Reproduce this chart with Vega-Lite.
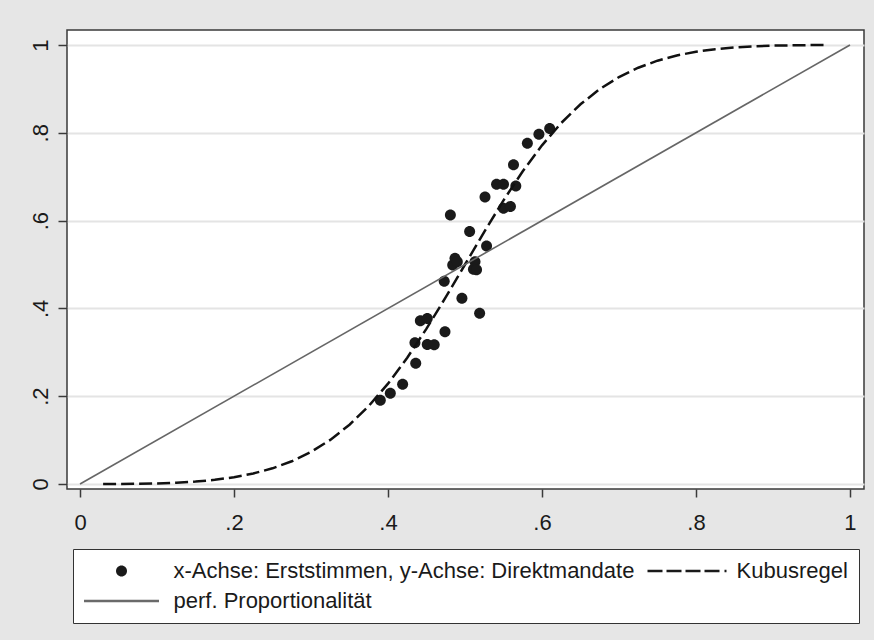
{
  "$schema": "https://vega.github.io/schema/vega-lite/v6.json",
  "width": 797,
  "height": 459,
  "autosize": {"type": "none"},
  "padding": {"left": 67, "top": 30, "right": 10, "bottom": 151},
  "background": "#e6e6e6",
  "config": {
    "view": {"fill": "#ffffff", "stroke": "#3a3a3a", "strokeWidth": 1.5},
    "font": "Liberation Sans",
    "axis": {
      "domain": false,
      "labelFont": "Liberation Sans",
      "labelFontSize": 22,
      "labelColor": "#1a1a1a",
      "tickColor": "#3a3a3a",
      "tickWidth": 1.5,
      "gridColor": "#e4e4e4",
      "gridWidth": 2,
      "labelFlush": false,
      "labelOverlap": false
    }
  },
  "datasets": {
    "punkte": [
      {"x": 0.390, "y": 0.191, "serie": "x-Achse: Erststimmen, y-Achse: Direktmandate"},
      {"x": 0.403, "y": 0.207, "serie": "x-Achse: Erststimmen, y-Achse: Direktmandate"},
      {"x": 0.419, "y": 0.227, "serie": "x-Achse: Erststimmen, y-Achse: Direktmandate"},
      {"x": 0.436, "y": 0.275, "serie": "x-Achse: Erststimmen, y-Achse: Direktmandate"},
      {"x": 0.435, "y": 0.322, "serie": "x-Achse: Erststimmen, y-Achse: Direktmandate"},
      {"x": 0.451, "y": 0.318, "serie": "x-Achse: Erststimmen, y-Achse: Direktmandate"},
      {"x": 0.460, "y": 0.317, "serie": "x-Achse: Erststimmen, y-Achse: Direktmandate"},
      {"x": 0.442, "y": 0.372, "serie": "x-Achse: Erststimmen, y-Achse: Direktmandate"},
      {"x": 0.451, "y": 0.377, "serie": "x-Achse: Erststimmen, y-Achse: Direktmandate"},
      {"x": 0.474, "y": 0.347, "serie": "x-Achse: Erststimmen, y-Achse: Direktmandate"},
      {"x": 0.496, "y": 0.423, "serie": "x-Achse: Erststimmen, y-Achse: Direktmandate"},
      {"x": 0.519, "y": 0.389, "serie": "x-Achse: Erststimmen, y-Achse: Direktmandate"},
      {"x": 0.473, "y": 0.462, "serie": "x-Achse: Erststimmen, y-Achse: Direktmandate"},
      {"x": 0.484, "y": 0.499, "serie": "x-Achse: Erststimmen, y-Achse: Direktmandate"},
      {"x": 0.487, "y": 0.514, "serie": "x-Achse: Erststimmen, y-Achse: Direktmandate"},
      {"x": 0.490, "y": 0.506, "serie": "x-Achse: Erststimmen, y-Achse: Direktmandate"},
      {"x": 0.513, "y": 0.506, "serie": "x-Achse: Erststimmen, y-Achse: Direktmandate"},
      {"x": 0.511, "y": 0.489, "serie": "x-Achse: Erststimmen, y-Achse: Direktmandate"},
      {"x": 0.515, "y": 0.488, "serie": "x-Achse: Erststimmen, y-Achse: Direktmandate"},
      {"x": 0.506, "y": 0.575, "serie": "x-Achse: Erststimmen, y-Achse: Direktmandate"},
      {"x": 0.528, "y": 0.542, "serie": "x-Achse: Erststimmen, y-Achse: Direktmandate"},
      {"x": 0.481, "y": 0.613, "serie": "x-Achse: Erststimmen, y-Achse: Direktmandate"},
      {"x": 0.526, "y": 0.654, "serie": "x-Achse: Erststimmen, y-Achse: Direktmandate"},
      {"x": 0.550, "y": 0.628, "serie": "x-Achse: Erststimmen, y-Achse: Direktmandate"},
      {"x": 0.559, "y": 0.632, "serie": "x-Achse: Erststimmen, y-Achse: Direktmandate"},
      {"x": 0.541, "y": 0.683, "serie": "x-Achse: Erststimmen, y-Achse: Direktmandate"},
      {"x": 0.550, "y": 0.683, "serie": "x-Achse: Erststimmen, y-Achse: Direktmandate"},
      {"x": 0.566, "y": 0.679, "serie": "x-Achse: Erststimmen, y-Achse: Direktmandate"},
      {"x": 0.563, "y": 0.727, "serie": "x-Achse: Erststimmen, y-Achse: Direktmandate"},
      {"x": 0.581, "y": 0.776, "serie": "x-Achse: Erststimmen, y-Achse: Direktmandate"},
      {"x": 0.596, "y": 0.797, "serie": "x-Achse: Erststimmen, y-Achse: Direktmandate"},
      {"x": 0.610, "y": 0.810, "serie": "x-Achse: Erststimmen, y-Achse: Direktmandate"}
    ],
    "kubus": [
      {"x": 0.03, "y": 0.00003}, {"x": 0.05, "y": 0.00015}, {"x": 0.1, "y": 0.00137},
      {"x": 0.125, "y": 0.00291}, {"x": 0.15, "y": 0.00547}, {"x": 0.175, "y": 0.00945},
      {"x": 0.2, "y": 0.01538}, {"x": 0.225, "y": 0.02389}, {"x": 0.25, "y": 0.03571},
      {"x": 0.275, "y": 0.05175}, {"x": 0.3, "y": 0.07297}, {"x": 0.325, "y": 0.10041},
      {"x": 0.35, "y": 0.13504}, {"x": 0.375, "y": 0.17763}, {"x": 0.4, "y": 0.22857},
      {"x": 0.425, "y": 0.28765}, {"x": 0.45, "y": 0.35388}, {"x": 0.475, "y": 0.4255},
      {"x": 0.5, "y": 0.5}, {"x": 0.525, "y": 0.5745}, {"x": 0.55, "y": 0.64612},
      {"x": 0.575, "y": 0.71235}, {"x": 0.6, "y": 0.77143}, {"x": 0.625, "y": 0.82237},
      {"x": 0.65, "y": 0.86496}, {"x": 0.675, "y": 0.89959}, {"x": 0.7, "y": 0.92703},
      {"x": 0.725, "y": 0.94825}, {"x": 0.75, "y": 0.96429}, {"x": 0.775, "y": 0.97611},
      {"x": 0.8, "y": 0.98462}, {"x": 0.825, "y": 0.99055}, {"x": 0.85, "y": 0.99453},
      {"x": 0.875, "y": 0.99709}, {"x": 0.9, "y": 0.99863}, {"x": 0.95, "y": 0.99985},
      {"x": 0.97, "y": 0.99997}
    ],
    "prop": [
      {"x": 0, "y": 0},
      {"x": 1, "y": 1}
    ]
  },
  "layer": [
    {
      "data": {"name": "punkte"},
      "mark": {"type": "point", "filled": true, "opacity": 1, "size": 4, "strokeWidth": 0},
      "encoding": {
        "x": {
          "field": "x", "type": "quantitative",
          "scale": {"domain": [-0.0169, 1.0182], "nice": false, "zero": false},
          "axis": {
            "title": null,
            "values": [0, 0.2, 0.4, 0.6, 0.8, 1],
            "labelExpr": "datum.value == 0 ? '0' : datum.value == 1 ? '1' : '.' + round(datum.value * 10)",
            "grid": false,
            "tickSize": 8,
            "labelPadding": 15
          }
        },
        "y": {
          "field": "y", "type": "quantitative",
          "scale": {"domain": [-0.0114, 1.0342], "nice": false, "zero": false},
          "axis": {
            "title": null,
            "values": [0, 0.2, 0.4, 0.6, 0.8, 1],
            "labelExpr": "datum.value == 0 ? '0' : datum.value == 1 ? '1' : '.' + round(datum.value * 10)",
            "grid": true,
            "tickSize": 9,
            "labelAngle": 270,
            "labelAlign": "center",
            "labelBaseline": "bottom",
            "labelPadding": 6
          }
        },
        "color": {
          "field": "serie", "type": "nominal",
          "scale": {
            "domain": ["x-Achse: Erststimmen, y-Achse: Direktmandate", "Kubusregel", "perf. Proportionalität"],
            "range": ["#1a1a1a", "#1a1a1a", "#6a6a6a"]
          },
          "legend": {
            "title": null, "orient": "none", "legendX": 6, "legendY": 519,
            "columns": 2, "direction": "horizontal",
            "symbolSize": 4, "symbolStrokeWidth": 0, "symbolOffset": 26.5,
            "labelOffset": 41, "labelFont": "Liberation Sans", "labelFontSize": 22,
            "labelColor": "#1a1a1a", "labelLimit": 700,
            "padding": 11, "rowPadding": 8, "columnPadding": 12,
            "fillColor": "#ffffff", "strokeColor": "#333333", "cornerRadius": 0
          }
        },
        "shape": {
          "field": "serie", "type": "nominal",
          "scale": {
            "domain": ["x-Achse: Erststimmen, y-Achse: Direktmandate", "Kubusregel", "perf. Proportionalität"],
            "range": [
              "M-5.5,0A5.5,5.5,0,1,1,5.5,0A5.5,5.5,0,1,1,-5.5,0Z",
              "M-37,-1.3H-22V1.3H-37Z M-18,-1.3H-3V1.3H-18Z M1,-1.3H16V1.3H1Z M20,-1.3H35V1.3H20Z M40,-1.3H42V1.3H40Z",
              "M-37.5,-1.2H37.5V1.2H-37.5Z"
            ]
          },
          "legend": {
            "title": null, "orient": "none", "legendX": 6, "legendY": 519,
            "columns": 2, "direction": "horizontal",
            "symbolSize": 4, "symbolStrokeWidth": 0, "symbolOffset": 26.5,
            "labelOffset": 41, "labelFont": "Liberation Sans", "labelFontSize": 22,
            "labelColor": "#1a1a1a", "labelLimit": 700,
            "padding": 11, "rowPadding": 8, "columnPadding": 12,
            "fillColor": "#ffffff", "strokeColor": "#333333", "cornerRadius": 0
          }
        }
      }
    },
    {
      "data": {"name": "kubus"},
      "mark": {"type": "line", "color": "#111111", "strokeWidth": 2.5, "strokeDash": [13, 5]},
      "encoding": {
        "x": {"field": "x", "type": "quantitative"},
        "y": {"field": "y", "type": "quantitative"}
      }
    },
    {
      "data": {"name": "prop"},
      "mark": {"type": "line", "color": "#666666", "strokeWidth": 1.6},
      "encoding": {
        "x": {"field": "x", "type": "quantitative"},
        "y": {"field": "y", "type": "quantitative"}
      }
    }
  ]
}
